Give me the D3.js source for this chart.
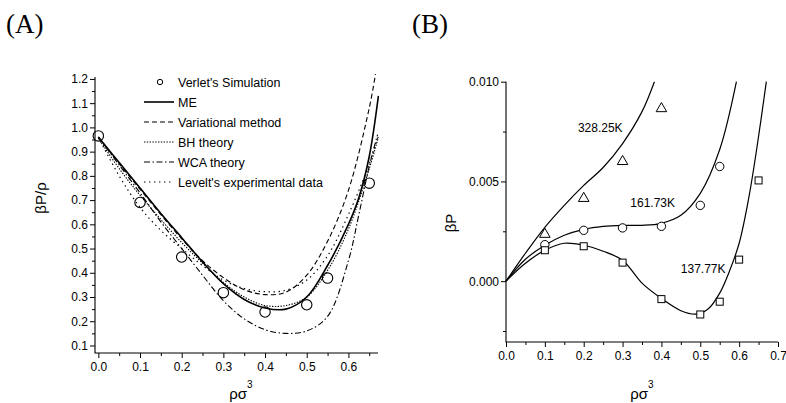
<!DOCTYPE html>
<html>
<head>
<meta charset="utf-8">
<script src="https://cdn.jsdelivr.net/npm/d3@7"></script>
<style>
  body { margin: 0; background: #fff; }
  svg { display: block; }
  text { font-family: "Liberation Sans", Arial, sans-serif; fill: #000; }
  .panel-tag { font-family: "Liberation Serif", "DejaVu Serif", serif; font-size: 27px; }
</style>
</head>
<body>
<div class="chart"></div>
<script>
// -----------------------------------------------------------------------
// Data: panel A (beta P / rho against rho sigma^3)
// -----------------------------------------------------------------------

const A_TICKS_X = [0.0, 0.1, 0.2, 0.3, 0.4, 0.5, 0.6];
const A_TICKS_Y = [0.1, 0.2, 0.3, 0.4, 0.5, 0.6, 0.7, 0.8, 0.9, 1.0, 1.1, 1.2];

const verletX = [0.0, 0.1, 0.2, 0.3, 0.4, 0.5, 0.55, 0.65];
const verletY = [0.965, 0.69, 0.465, 0.318, 0.238, 0.268, 0.378, 0.77];

const meX = [0, 0.05, 0.1, 0.15, 0.2, 0.25, 0.3, 0.35, 0.4, 0.45, 0.5, 0.55, 0.6, 0.625, 0.65, 0.672];
const meY = [0.96, 0.855, 0.75, 0.645, 0.545, 0.445, 0.355, 0.29, 0.255, 0.25, 0.3, 0.43, 0.6, 0.71, 0.88, 1.13];

const varX = [0, 0.05, 0.1, 0.15, 0.2, 0.25, 0.3, 0.35, 0.4, 0.45, 0.5, 0.55, 0.6, 0.65, 0.665];
const varY = [0.96, 0.85, 0.745, 0.64, 0.54, 0.45, 0.38, 0.33, 0.31, 0.32, 0.39, 0.53, 0.74, 1.08, 1.22];

const bhX = [0, 0.05, 0.1, 0.15, 0.2, 0.25, 0.3, 0.35, 0.4, 0.45, 0.5, 0.55, 0.6, 0.65, 0.672];
const bhY = [0.955, 0.83, 0.72, 0.62, 0.525, 0.44, 0.36, 0.3, 0.265, 0.265, 0.3, 0.41, 0.58, 0.83, 0.96];

const wcaX = [0, 0.05, 0.1, 0.15, 0.2, 0.25, 0.3, 0.35, 0.4, 0.45, 0.5, 0.55, 0.6, 0.625, 0.65, 0.67];
const wcaY = [0.96, 0.845, 0.73, 0.61, 0.5, 0.39, 0.285, 0.21, 0.165, 0.15, 0.16, 0.22, 0.45, 0.64, 0.84, 0.97];

const leveltX = [0, 0.05, 0.1, 0.15, 0.2, 0.25, 0.3, 0.35, 0.4, 0.45, 0.5, 0.55, 0.6, 0.65, 0.672];
const leveltY = [0.96, 0.8, 0.67, 0.575, 0.5, 0.43, 0.37, 0.335, 0.322, 0.328, 0.37, 0.47, 0.64, 0.85, 0.97];

// -----------------------------------------------------------------------
// Data: panel B (beta P against rho sigma^3, three isotherms)
// -----------------------------------------------------------------------

const B_TICKS_X = [0.0, 0.1, 0.2, 0.3, 0.4, 0.5, 0.6, 0.7];
const B_TICKS_Y = [0.000, 0.005, 0.010];

const t328X = [0, 0.05, 0.1, 0.15, 0.2, 0.25, 0.3, 0.35, 0.382];
const t328Y = [0, 0.0014, 0.0027, 0.0038, 0.0048, 0.0057, 0.0069, 0.0085, 0.0100];
const tri328X = [0.1, 0.2, 0.3, 0.4];
const tri328Y = [0.0024, 0.0042, 0.00605, 0.0087];

const t161X = [0, 0.05, 0.1, 0.15, 0.2, 0.25, 0.3, 0.35, 0.4, 0.45, 0.5, 0.55, 0.593];
const t161Y = [0, 0.0011, 0.0018, 0.0023, 0.0026, 0.00275, 0.0028, 0.0028, 0.0029, 0.0033, 0.0044, 0.0066, 0.0100];
const circ161X = [0.1, 0.2, 0.3, 0.4, 0.5, 0.55];
const circ161Y = [0.00183, 0.00255, 0.00267, 0.00275, 0.0038, 0.00575];

const t137X = [0, 0.05, 0.1, 0.15, 0.2, 0.25, 0.3, 0.35, 0.4, 0.45, 0.49, 0.52, 0.55, 0.575, 0.6, 0.625, 0.645, 0.67];
const t137Y = [0, 0.0009, 0.00155, 0.0019, 0.0018, 0.0015, 0.00105, -0.0001, -0.00087, -0.00148, -0.00165, -0.0014, -0.0006, 0.0005, 0.0019, 0.0042, 0.0066, 0.0100];
const sq137X = [0.1, 0.2, 0.3, 0.4, 0.5, 0.55, 0.6, 0.65];
const sq137Y = [0.00155, 0.00175, 0.00093, -0.0009, -0.00167, -0.00103, 0.00108, 0.00505];

// -----------------------------------------------------------------------
// Layout
// -----------------------------------------------------------------------

const WIDTH = 786;
const HEIGHT = 403;

const zip = (xs, ys) => xs.map((x, i) => [x, ys[i]]);

const svg = d3.select(".chart")
  .append("svg")
  .attr("width", WIDTH)
  .attr("height", HEIGHT);

// draws an Origin-style axis pair with outward major and minor ticks
function drawAxes(x, y, xTicks, yTicks, xMinor, yMinor, xFmt, yFmt) {
  const g = svg.append("g");
  const [x0, x1] = x.range();
  const [y0, y1] = y.range();

  g.append("g")
    .attr("transform", `translate(0, ${y0})`)
    .call(d3.axisBottom(x).tickValues(xMinor).tickSize(3).tickFormat(""))
    .call(a => a.select(".domain").remove());
  g.append("g")
    .attr("transform", `translate(0, ${y0})`)
    .call(d3.axisBottom(x).tickValues(xTicks).tickSize(5).tickPadding(4).tickFormat(xFmt))
    .call(a => a.select(".domain").remove());
  g.append("g")
    .attr("transform", `translate(${x0}, 0)`)
    .call(d3.axisLeft(y).tickValues(yMinor).tickSize(3).tickFormat(""))
    .call(a => a.select(".domain").remove());
  g.append("g")
    .attr("transform", `translate(${x0}, 0)`)
    .call(d3.axisLeft(y).tickValues(yTicks).tickSize(5).tickPadding(2).tickFormat(yFmt))
    .call(a => a.select(".domain").remove());

  g.selectAll("text").attr("font-size", 12).attr("font-family", "Liberation Sans, Arial, sans-serif");
  g.selectAll("line").attr("stroke", "#000").attr("stroke-width", 1);

  g.append("path")
    .attr("d", `M${x0},${y1}V${y0}H${x1}`)
    .attr("fill", "none")
    .attr("stroke", "#000")
    .attr("stroke-width", 1.1);
}

function axisTitles(xCenter, xBase, yCenterX, yCenterY, yLabel) {
  const t = svg.append("text")
    .attr("x", xCenter)
    .attr("y", xBase)
    .attr("font-size", 15)
    .attr("text-anchor", "middle");
  t.append("tspan").text("ρσ");
  t.append("tspan").attr("dy", -11).attr("font-size", 10).text("3");

  svg.append("text")
    .attr("transform", `translate(${yCenterX}, ${yCenterY}) rotate(-90)`)
    .attr("font-size", 15)
    .attr("text-anchor", "middle")
    .text(yLabel);
}

// -----------------------------------------------------------------------
// Panel A
// -----------------------------------------------------------------------

const xA = d3.scaleLinear().domain([-0.008, 0.671]).range([95, 378]);
const yA = d3.scaleLinear().domain([0.069, 1.208]).range([353, 77]);

svg.append("text").attr("class", "panel-tag").attr("x", 6).attr("y", 33).text("(A)");

drawAxes(
  xA, yA, A_TICKS_X, A_TICKS_Y,
  d3.range(0.05, 0.67, 0.1), d3.range(0.15, 1.2, 0.1),
  d3.format(".1f"), d3.format(".1f")
);
axisTitles(241, 399, 46, 198, "βP/ρ");

svg.append("clipPath").attr("id", "clipA")
  .append("rect").attr("x", 95).attr("y", 70).attr("width", 284).attr("height", 283);

const lineA = d3.line().x(d => xA(d[0])).y(d => yA(d[1])).curve(d3.curveCatmullRom);

const seriesA = [
  { name: "ME", pts: zip(meX, meY), dash: null, width: 1.6 },
  { name: "Variational method", pts: zip(varX, varY), dash: "5,3", width: 1.1 },
  { name: "BH theory", pts: zip(bhX, bhY), dash: "1.4,1.4", width: 1.1 },
  { name: "WCA theory", pts: zip(wcaX, wcaY), dash: "6,2.5,1.5,2.5", width: 1.1 },
  { name: "Levelt's experimental data", pts: zip(leveltX, leveltY), dash: "1.4,3.6", width: 1.2 }
];

svg.append("g").attr("clip-path", "url(#clipA)")
  .selectAll("path")
  .data(seriesA)
  .join("path")
  .attr("d", d => lineA(d.pts))
  .attr("fill", "none")
  .attr("stroke", "#000")
  .attr("stroke-width", d => d.width)
  .attr("stroke-dasharray", d => d.dash);

svg.append("g")
  .selectAll("circle")
  .data(zip(verletX, verletY))
  .join("circle")
  .attr("cx", d => xA(d[0]))
  .attr("cy", d => yA(d[1]))
  .attr("r", 5.2)
  .attr("fill", "none")
  .attr("stroke", "#000")
  .attr("stroke-width", 1.1);

// legend
const legend = svg.append("g").attr("transform", "translate(144, 82)");
legend.append("circle").attr("cx", 16).attr("cy", 0).attr("r", 2.7)
  .attr("fill", "none").attr("stroke", "#000").attr("stroke-width", 1);
legend.append("text").attr("x", 34).attr("y", 4.5).attr("font-size", 12.5).text("Verlet's Simulation");

const rows = legend.selectAll(".row")
  .data(seriesA)
  .join("g")
  .attr("class", "row")
  .attr("transform", (d, i) => `translate(0, ${20 * (i + 1)})`);
rows.append("line")
  .attr("x1", 0).attr("x2", 30)
  .attr("stroke", "#000")
  .attr("stroke-width", d => d.width)
  .attr("stroke-dasharray", d => d.dash);
rows.append("text")
  .attr("x", 34).attr("y", 4.5)
  .attr("font-size", 12.5)
  .text(d => d.name);

// -----------------------------------------------------------------------
// Panel B
// -----------------------------------------------------------------------

const xB = d3.scaleLinear().domain([0, 0.7]).range([506, 778]);
const yB = d3.scaleLinear().domain([-0.00305, 0.010]).range([342, 81.7]);

svg.append("text").attr("class", "panel-tag").attr("x", 412).attr("y", 33).text("(B)");

drawAxes(
  xB, yB, B_TICKS_X, B_TICKS_Y,
  d3.range(0.05, 0.7, 0.1), [-0.0025, 0.0025, 0.0075],
  d3.format(".1f"), d3.format(".3f")
);
axisTitles(642, 399, 456, 223, "βP");

const lineB = d3.line().x(d => xB(d[0])).y(d => yB(d[1])).curve(d3.curveCatmullRom);

const isotherms = [zip(t328X, t328Y), zip(t161X, t161Y), zip(t137X, t137Y)];

svg.append("g")
  .selectAll("path")
  .data(isotherms)
  .join("path")
  .attr("d", lineB)
  .attr("fill", "none")
  .attr("stroke", "#000")
  .attr("stroke-width", 1.2);

// triangles
svg.append("g")
  .selectAll("path")
  .data(zip(tri328X, tri328Y))
  .join("path")
  .attr("d", d3.symbol(d3.symbolTriangle, 48))
  .attr("transform", d => `translate(${xB(d[0])}, ${yB(d[1]) + 1})`)
  .attr("fill", "#fff")
  .attr("stroke", "#000")
  .attr("stroke-width", 1);

// circles
svg.append("g")
  .selectAll("circle")
  .data(zip(circ161X, circ161Y))
  .join("circle")
  .attr("cx", d => xB(d[0]))
  .attr("cy", d => yB(d[1]))
  .attr("r", 4.2)
  .attr("fill", "#fff")
  .attr("stroke", "#000")
  .attr("stroke-width", 1);

// squares
svg.append("g")
  .selectAll("rect")
  .data(zip(sq137X, sq137Y))
  .join("rect")
  .attr("x", d => xB(d[0]) - 3.5)
  .attr("y", d => yB(d[1]) - 3.5)
  .attr("width", 7)
  .attr("height", 7)
  .attr("fill", "#fff")
  .attr("stroke", "#000")
  .attr("stroke-width", 1);

// isotherm labels
const TEMP_LABELS = ["328.25K", "161.73K", "137.77K"];
const TEMP_POS = [[0.185, 0.0075], [0.32, 0.0037], [0.45, 0.0004]];

svg.append("g")
  .selectAll("text")
  .data(TEMP_LABELS)
  .join("text")
  .attr("x", (d, i) => xB(TEMP_POS[i][0]))
  .attr("y", (d, i) => yB(TEMP_POS[i][1]))
  .attr("font-size", 12)
  .text(d => d);
</script>
</body>
</html>
